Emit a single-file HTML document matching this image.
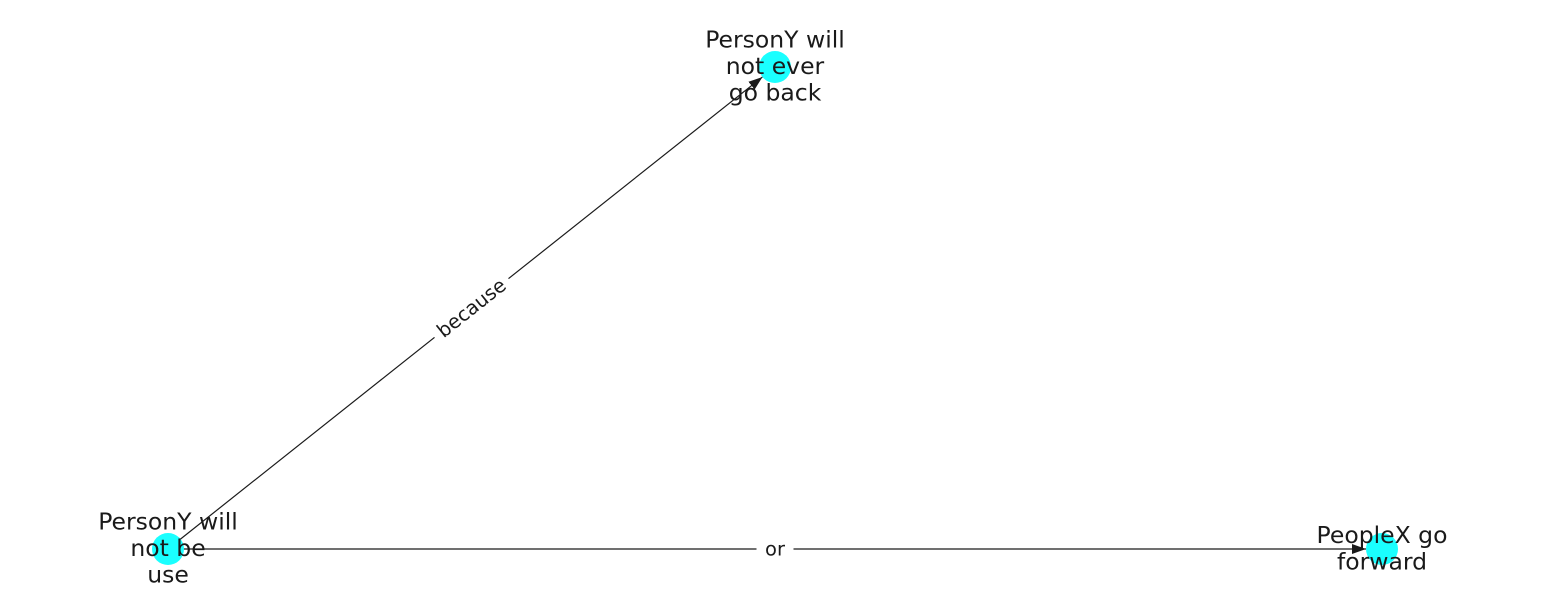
<!DOCTYPE html>
<html><head><meta charset="utf-8"><style>
html,body{margin:0;padding:0;background:#fff;}
svg{display:block;font-family:"DejaVu Sans","Liberation Sans",sans-serif;}
</style></head><body>
<svg id="chart" width="1550" height="616" viewBox="0 0 1550 616">
<defs><marker id="arr" markerWidth="14" markerHeight="10" refX="14" refY="5" orient="auto" markerUnits="userSpaceOnUse"><path d="M0,0 L14,5 L0,10 z" fill="#1a1a1a"/></marker></defs>
<g id="edges"></g><g id="nodes"></g><g id="labels"></g>
</svg>
<script>
const nodeNames = ["PersonY will\nnot be\nuse", "PersonY will\nnot ever\ngo back", "PeopleX go\nforward"];
const nodeX = [0, 0.5, 1];
const nodeY = [0, 1, 0];
const edgeFrom = [0, 0];
const edgeTo = [1, 2];
const edgeLabels = ["because", "or"];
const sx = v => 168 + v * (1382 - 168);
const sy = v => 549 - v * (549 - 67);
const NS = "http://www.w3.org/2000/svg";
const eg = document.getElementById('edges'), ng = document.getElementById('nodes'), lg = document.getElementById('labels');
const R = 16;
edgeFrom.forEach((f, i) => {
  const t = edgeTo[i];
  const x1 = sx(nodeX[f]), y1 = sy(nodeY[f]), x2 = sx(nodeX[t]), y2 = sy(nodeY[t]);
  const d = Math.hypot(x2 - x1, y2 - y1), ux = (x2 - x1) / d, uy = (y2 - y1) / d;
  const l = document.createElementNS(NS, 'line');
  
  
  l.setAttribute('x1', x1); l.setAttribute('y1', y1);
  l.setAttribute('x2', x2 - ux * R); l.setAttribute('y2', y2 - uy * R);
  l.setAttribute('stroke', '#1a1a1a'); l.setAttribute('stroke-width', '1.2');
  l.setAttribute('marker-end', 'url(#arr)');
  eg.appendChild(l);
  const mx = (x1 + x2) / 2, my = (y1 + y2) / 2;
  const ang = Math.atan2(y2 - y1, x2 - x1) * 180 / Math.PI;
  const g = document.createElementNS(NS, 'g');
  
  
  g.setAttribute('transform', `translate(${mx},${my}) rotate(${ang})`);
  const w = edgeLabels[i].length * 11.5 + 14;
  const r = document.createElementNS(NS, 'rect');
  r.setAttribute('x', -w / 2); r.setAttribute('y', -12); r.setAttribute('width', w); r.setAttribute('height', 24); r.setAttribute('fill', '#fff');
  g.appendChild(r);
  const tx = document.createElementNS(NS, 'text');
  tx.setAttribute('text-anchor', 'middle'); tx.setAttribute('dy', '6.5'); tx.setAttribute('font-size', '19.5'); tx.setAttribute('fill', '#1a1a1a');
  tx.textContent = edgeLabels[i];
  g.appendChild(tx);
  eg.appendChild(g);
});
nodeNames.forEach((n, i) => {
  const x = sx(nodeX[i]), y = sy(nodeY[i]);
  const c = document.createElementNS(NS, 'circle');
  
  
  c.setAttribute('cx', x); c.setAttribute('cy', y); c.setAttribute('r', R); c.setAttribute('fill', '#1affff');
  ng.appendChild(c);
  const lines = n.split('\n');
  const t = document.createElementNS(NS, 'text');
  
  
  t.setAttribute('text-anchor', 'middle'); t.setAttribute('font-size', '23.5'); t.setAttribute('fill', '#1a1a1a');
  const y0 = y - (lines.length - 1) * 26.5 / 2 + 7;
  lines.forEach((s, k) => {
    const ts = document.createElementNS(NS, 'tspan');
    ts.setAttribute('x', x); ts.setAttribute('y', y0 + k * 26.5);
    ts.textContent = s;
    t.appendChild(ts);
  });
  lg.appendChild(t);
});
</script>
</body></html>
